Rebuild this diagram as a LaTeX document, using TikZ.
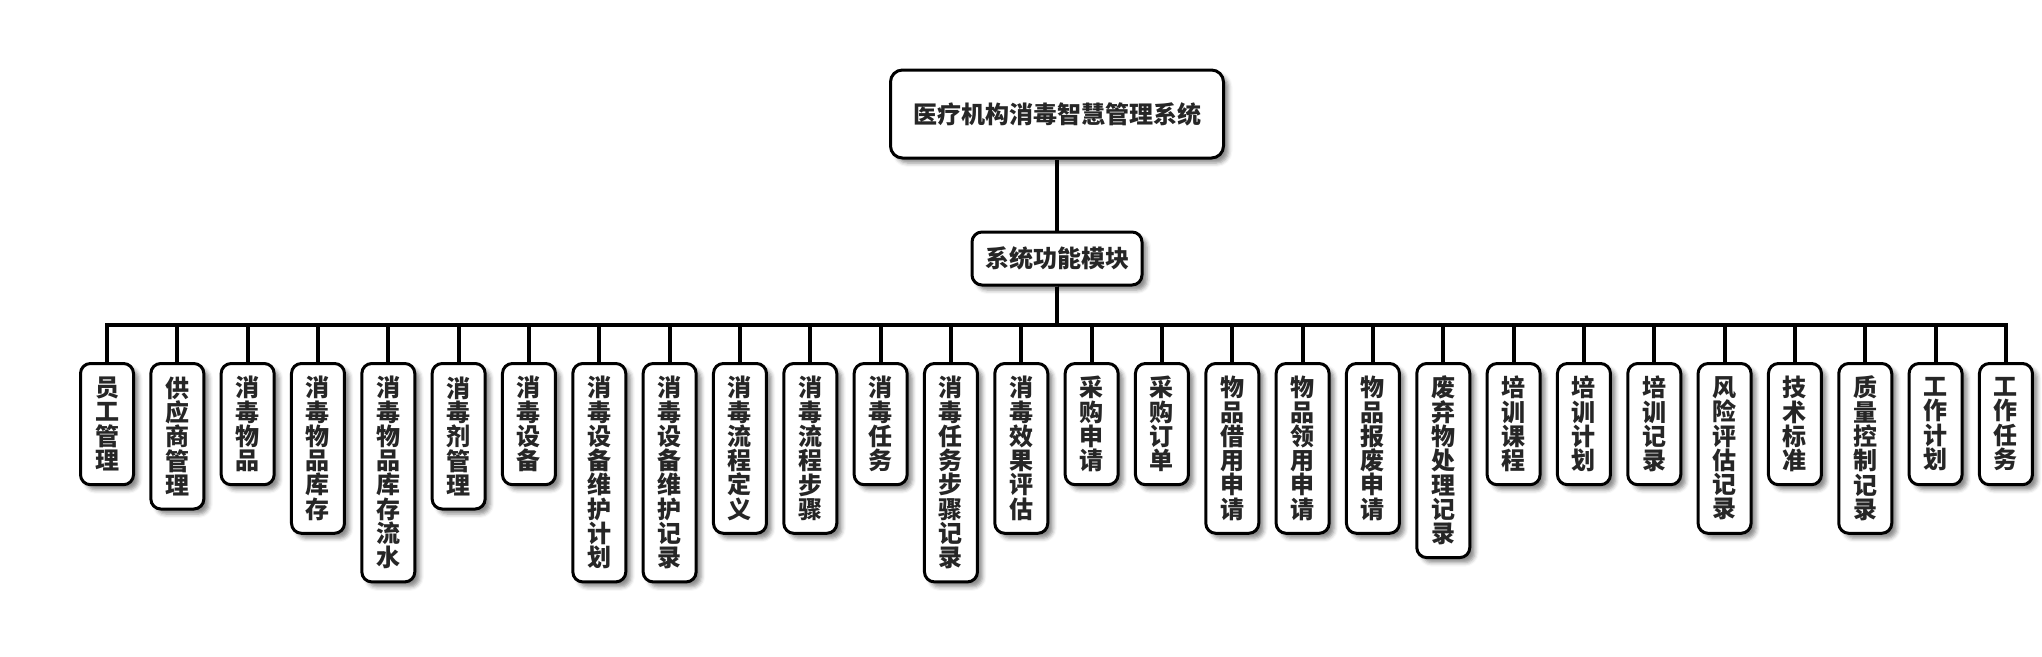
\documentclass[tikz,border=0pt]{standalone}
\usepackage{fontspec}
\newfontfamily\cjk{Noto Sans CJK SC}
\usetikzlibrary{shadows.blur}
\definecolor{txt}{HTML}{262626}
\begin{document}
\begin{tikzpicture}[x=1pt,y=-1pt,
  box/.style={draw=black, line width=3pt, fill=white, rounded corners=10pt, text=txt,
    font=\cjk\bfseries\fontsize{24}{24.3}\selectfont,
    blur shadow={shadow xshift=5pt, shadow yshift=-5pt, shadow blur radius=4pt, shadow opacity=45}},
  leafbox/.style={box, anchor=north, align=center, inner sep=1pt, minimum width=53pt,
    minimum height=24pt+24.3pt*#1},
  link/.style={line width=4pt, draw=black}]
\useasboundingbox (0,0) rectangle (2042,656);
\node[box, minimum width=333pt, minimum height=88pt, rounded corners=12pt] (root) at (1057,114) {医疗机构消毒智慧管理系统};
\node[box, minimum width=170pt, minimum height=53pt] (mod) at (1057,258.5) {系统功能模块};
\foreach \t/\n [count=\i from 0] in {
  {员\\工\\管\\理}/4,
  {供\\应\\商\\管\\理}/5,
  {消\\毒\\物\\品}/4,
  {消\\毒\\物\\品\\库\\存}/6,
  {消\\毒\\物\\品\\库\\存\\流\\水}/8,
  {消\\毒\\剂\\管\\理}/5,
  {消\\毒\\设\\备}/4,
  {消\\毒\\设\\备\\维\\护\\计\\划}/8,
  {消\\毒\\设\\备\\维\\护\\记\\录}/8,
  {消\\毒\\流\\程\\定\\义}/6,
  {消\\毒\\流\\程\\步\\骤}/6,
  {消\\毒\\任\\务}/4,
  {消\\毒\\任\\务\\步\\骤\\记\\录}/8,
  {消\\毒\\效\\果\\评\\估}/6,
  {采\\购\\申\\请}/4,
  {采\\购\\订\\单}/4,
  {物\\品\\借\\用\\申\\请}/6,
  {物\\品\\领\\用\\申\\请}/6,
  {物\\品\\报\\废\\申\\请}/6,
  {废\\弃\\物\\处\\理\\记\\录}/7,
  {培\\训\\课\\程}/4,
  {培\\训\\计\\划}/4,
  {培\\训\\记\\录}/4,
  {风\\险\\评\\估\\记\\录}/6,
  {技\\术\\标\\准}/4,
  {质\\量\\控\\制\\记\\录}/6,
  {工\\作\\计\\划}/4,
  {工\\作\\任\\务}/4}
  \node[leafbox=\n] (l\i) at ({107+70.33*\i},362) {\t};
\draw[link] (root) -- (mod);
\foreach \i in {0,...,27}
  \draw[link] (mod.south) -- ++(0,38) -| (l\i.north);
\end{tikzpicture}
\end{document}
